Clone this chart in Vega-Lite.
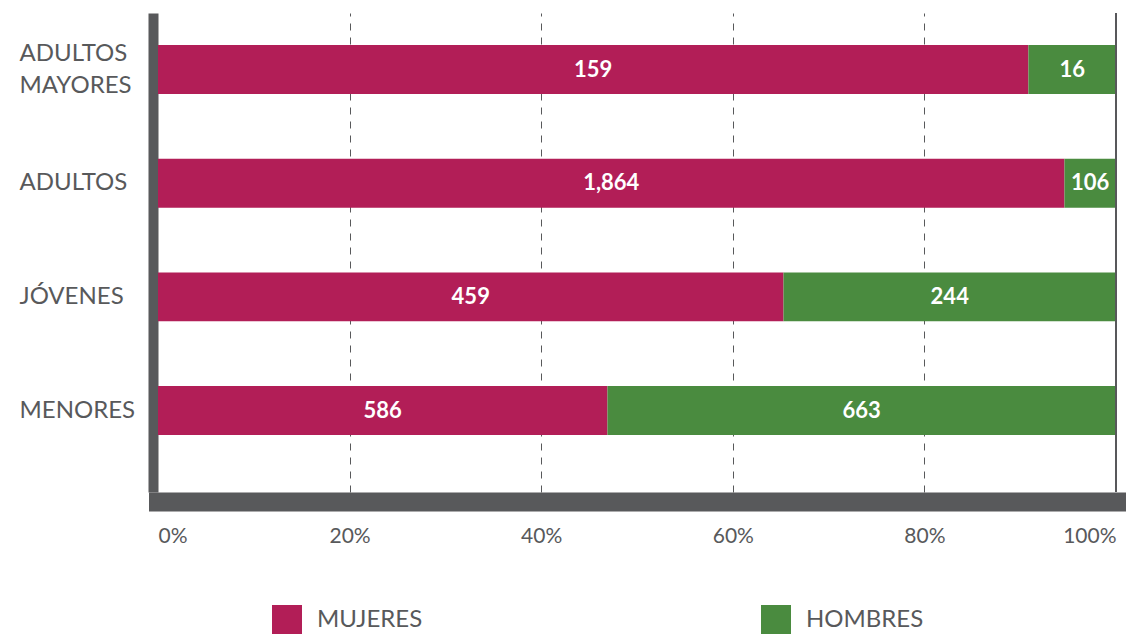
{
  "$schema": "https://vega.github.io/schema/vega-lite/v6.json",
  "autosize": {"type": "none"},
  "padding": {"left": 158, "top": 13, "right": 10, "bottom": 142},
  "width": 958,
  "height": 479,
  "background": "white",
  "config": {
    "view": {"stroke": null},
    "font": "Lato"
  },
  "data": {
    "values": [
      {"grupo": "ADULTOS MAYORES", "sexo": "MUJERES", "n": 159},
      {"grupo": "ADULTOS MAYORES", "sexo": "HOMBRES", "n": 16},
      {"grupo": "ADULTOS", "sexo": "MUJERES", "n": 1864},
      {"grupo": "ADULTOS", "sexo": "HOMBRES", "n": 106},
      {"grupo": "JÓVENES", "sexo": "MUJERES", "n": 459},
      {"grupo": "JÓVENES", "sexo": "HOMBRES", "n": 244},
      {"grupo": "MENORES", "sexo": "MUJERES", "n": 586},
      {"grupo": "MENORES", "sexo": "HOMBRES", "n": 663}
    ]
  },
  "layer": [
    {
      "mark": {"type": "bar"},
      "encoding": {
        "y": {
          "field": "grupo",
          "type": "nominal",
          "sort": ["ADULTOS MAYORES", "ADULTOS", "JÓVENES", "MENORES"],
          "scale": {"paddingInner": 0.569, "paddingOuter": 0.3915, "align": 0.36},
          "axis": {
            "title": null,
            "ticks": false,
            "tickSize": 0,
            "offset": 5,
            "domainWidth": 10,
            "domainColor": "#58595B",
            "labelAlign": "left",
            "labelPadding": 134,
            "labelFont": "Lato",
            "labelFontWeight": 400,
            "labelFontSize": 24,
            "labelColor": "#58595B",
            "labelLineHeight": 32,
            "labelOffset": {"condition": {"test": "datum.value == 'ADULTOS MAYORES'", "value": -16}, "value": 0},
            "labelExpr": "datum.value == 'ADULTOS MAYORES' ? ['ADULTOS', 'MAYORES'] : datum.label"
          }
        },
        "x": {
          "field": "n",
          "type": "quantitative",
          "stack": "normalize",
          "scale": {"domain": [0, 1], "nice": false},
          "axis": {
            "title": null,
            "values": [0, 0.2, 0.4, 0.6, 0.8, 1],
            "format": ".0%",
            "ticks": false,
            "tickSize": 0,
            "offset": 9.5,
            "domainWidth": 19,
            "domainCap": "square",
            "domainColor": "#58595B",
            "labelFlush": true,
            "labelPadding": 24,
            "labelFont": "Lato",
            "labelFontWeight": 400,
            "labelFontSize": 21,
            "labelColor": "#58595B",
            "grid": true,
            "gridColor": "#58595B",
            "gridWidth": 1,
            "gridDash": [7, 7],
            "gridOpacity": {"condition": {"test": "datum.value == 0 || datum.value == 1", "value": 0}, "value": 1}
          }
        },
        "color": {
          "field": "sexo",
          "type": "nominal",
          "scale": {"domain": ["MUJERES", "HOMBRES"], "range": ["#B21E57", "#4A8B3F"]},
          "legend": {
            "title": null,
            "orient": "none",
            "direction": "horizontal",
            "legendX": 114,
            "legendY": 592,
            "symbolType": "square",
            "symbolSize": 900,
            "symbolStrokeWidth": 0,
            "symbolOpacity": 1,
            "labelFont": "Lato",
            "labelFontWeight": 400,
            "labelFontSize": 24,
            "labelColor": "#58595B",
            "labelOffset": 15,
            "columnPadding": 338
          }
        },
        "order": {"field": "sexo", "sort": "descending"}
      }
    },
    {
      "mark": {"type": "text", "color": "white", "fontWeight": "bold", "fontSize": 22, "font": "Lato", "align": "center", "baseline": "middle"},
      "encoding": {
        "y": {"field": "grupo", "type": "nominal", "sort": ["ADULTOS MAYORES", "ADULTOS", "JÓVENES", "MENORES"]},
        "x": {"field": "n", "type": "quantitative", "stack": "normalize", "bandPosition": 0.5},
        "text": {"field": "n", "type": "quantitative", "format": ",d"},
        "detail": {"field": "sexo"},
        "order": {"field": "sexo", "sort": "descending"}
      }
    },
    {
      "mark": {"type": "rule", "color": "#58595B", "strokeWidth": 1.5},
      "encoding": {"x": {"datum": 1}}
    }
  ]
}
